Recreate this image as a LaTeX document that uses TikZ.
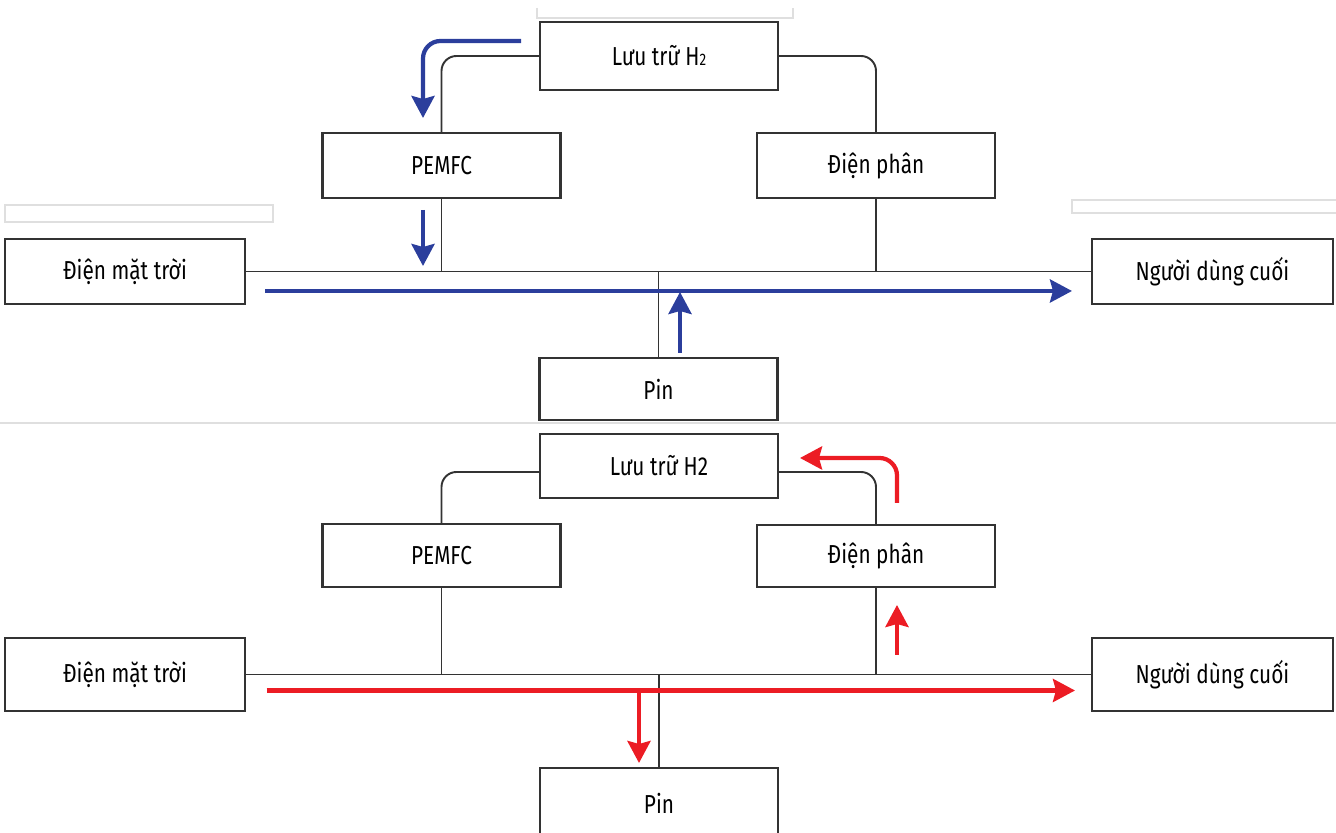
\documentclass[tikz,border=0pt]{standalone}
\usepackage{fontspec}
\setmainfont{Fira Sans}[FakeStretch=0.8]
\usetikzlibrary{arrows.meta}
\definecolor{flowblue}{RGB}{43,62,156}
\definecolor{flowred}{RGB}{236,28,36}
\tikzset{
  unit/.style={draw=black!80, line width=1.2pt, minimum width=4.76cm, minimum height=1.3cm,
    inner sep=0pt, font=\fontsize{14.8}{16}\selectfont},
  link/.style={draw=black!80, line width=1.1pt, rounded corners=0.3cm},
  flow/.style={line width=2.4pt, rounded corners=0.35cm,
    -{Stealth[length=0.44cm,width=0.46cm,inset=0.06cm]}},
  leftover/.style={draw=gray!25, line width=0.6pt}
}
\newcommand{\hsub}{{\fontsize{9.5}{9.5}\selectfont 2}}

\begin{document}
\begin{tikzpicture}
	\useasboundingbox (0,0) rectangle (26.72,16.66);
	% faint scan leftovers
	\draw[leftover] (0,8.2) -- (26.72,8.2);
	\draw[leftover] (0.1,12.56) rectangle (5.46,12.22);
	\draw[leftover] (26.72,12.66) -- (21.44,12.66) -- (21.44,12.40) -- (26.72,12.40);
	\draw[leftover] (10.74,16.5) -- (10.74,16.3) -- (15.86,16.3) -- (15.86,16.5);

	% discharge: units
	\node[unit, minimum height=1.36cm] (store1) at (13.18,15.54) {Lưu trữ H\hsub};
	\node[unit] (fc1) at (8.83,13.35) {PEMFC};
	\node[unit] (ely1) at (17.52,13.35) {Điện phân};
	\node[unit, minimum width=4.8cm] (pv1) at (2.50,11.23) {Điện mặt trời};
	\node[unit, minimum width=4.82cm] (load1) at (24.25,11.23) {Người dùng cuối};
	\node[unit, minimum height=1.24cm] (bat1) at (13.17,8.88) {Pin};

	% discharge: wiring
	\draw[link] (store1.west) -| (fc1.north);
	\draw[link] (store1.east) -| (ely1.north);
	\draw[link] (pv1.east) -- (load1.west);
	\draw[link] (fc1.south) -- (fc1.south |- pv1.east);
	\draw[link] (ely1.south) -- (ely1.south |- pv1.east);
	\draw[link] (bat1.north) -- (bat1.north |- pv1.east);

	% discharge: energy flow
	\draw[flow, flowblue] (10.42,15.84) -| (8.46,14.30);
	\draw[flow, flowblue] (8.46,12.46) -- (8.46,11.34);
	\draw[flow, flowblue] (5.30,10.84) -- (21.44,10.84);
	\draw[flow, flowblue] (13.60,9.60) -- (13.60,10.82);

	% charge: units
	\node[unit, minimum height=1.28cm] (store2) at (13.18,7.34) {Lưu trữ H2};
	\node[unit, minimum height=1.26cm] (fc2) at (8.83,5.55) {PEMFC};
	\node[unit, minimum height=1.24cm] (ely2) at (17.52,5.54) {Điện phân};
	\node[unit, minimum width=4.8cm, minimum height=1.46cm] (pv2) at (2.50,3.17) {Điện mặt trời};
	\node[unit, minimum width=4.82cm, minimum height=1.46cm] (load2) at (24.25,3.17) {Người dùng cuối};
	\node[unit, minimum height=1.40cm] (bat2) at (13.18,0.60) {Pin};

	% charge: wiring
	\draw[link] ([yshift=-0.12cm]store2.west) -| (fc2.north);
	\draw[link] ([yshift=-0.12cm]store2.east) -| (ely2.north);
	\draw[link] (pv2.east) -- (load2.west);
	\draw[link] (fc2.south) -- (fc2.south |- pv2.east);
	\draw[link] (ely2.south) -- (ely2.south |- pv2.east);
	\draw[link] (bat2.north) -- (bat2.north |- pv2.east);

	% charge: energy flow
	\draw[flow, flowred] (17.94,6.60) |- (16.00,7.50);
	\draw[flow, flowred] (17.94,3.56) -- (17.94,4.56);
	\draw[flow, flowred] (5.33,2.85) -- (21.50,2.85);
	\draw[flow, flowred] (12.78,2.85) -- (12.78,1.40);
\end{tikzpicture}
\end{document}
